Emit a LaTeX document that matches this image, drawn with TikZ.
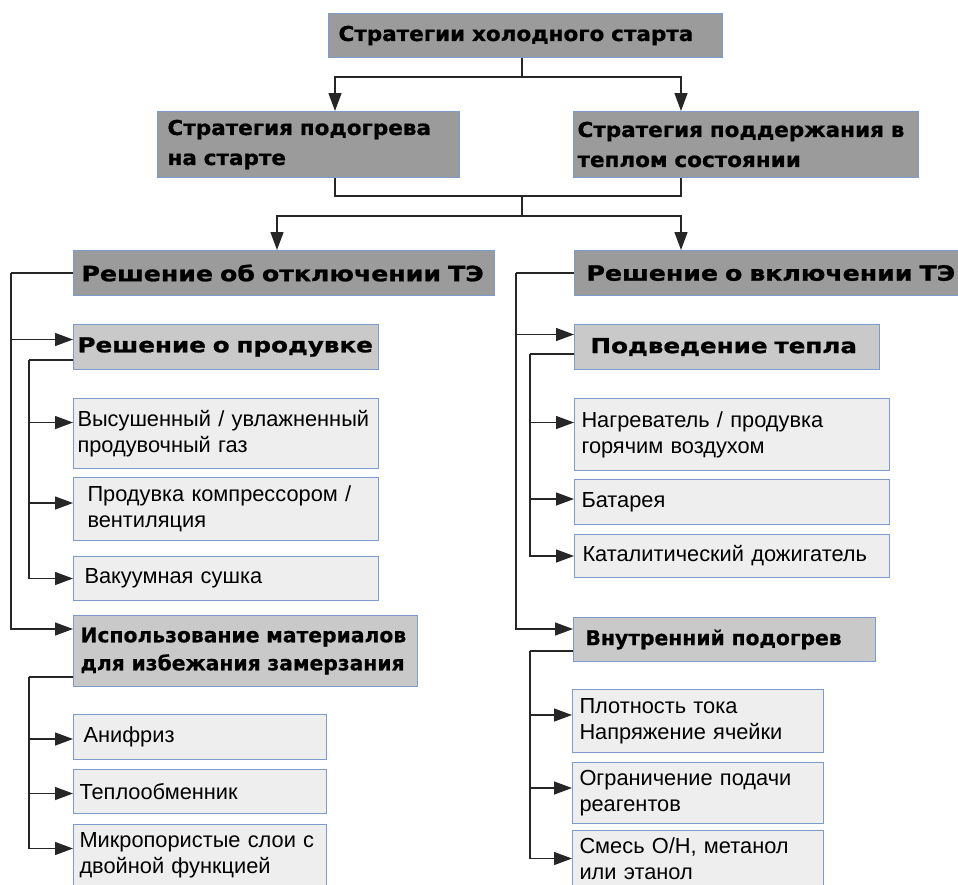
\documentclass[tikz,border=0pt]{standalone}
\usepackage{fontspec}
\setmainfont{Liberation Sans}
\newfontfamily\heavyfont[FakeBold=0.6]{DejaVu Sans}
\newfontfamily\widefont[FakeStretch=1.05, FakeBold=0.8]{DejaVu Sans}
\newfontfamily\blackfont[FakeStretch=1.2, FakeBold=1.2]{DejaVu Sans}
\usetikzlibrary{arrows.meta}
\usetikzlibrary{calc}

\definecolor{grayA}{HTML}{9B9B9B}
\definecolor{grayB}{HTML}{C9C9C9}
\definecolor{grayC}{HTML}{EEEEEE}
\definecolor{boxline}{HTML}{7C9CCF}

\begin{document}
\begin{tikzpicture}[x=1pt, y=-1pt,
    box/.style={draw=boxline, line width=1pt, anchor=north west, align=left, inner ysep=0pt},
    lvlA/.style={box, fill=grayA, font=\widefont\bfseries\fontsize{20.5}{30}\selectfont},
    lvlB/.style={box, fill=grayA, font=\blackfont\bfseries\fontsize{21}{26}\selectfont},
    lvlC/.style={box, fill=grayB, font=\blackfont\bfseries\fontsize{20.5}{27}\selectfont},
    lvlD/.style={box, fill=grayB, font=\heavyfont\bfseries\fontsize{20.3}{28}\selectfont},
    leaf/.style={box, fill=grayC, font=\fontsize{21.8}{26}\selectfont},
    line/.style={draw=black!85, line width=1.3pt},
    arr/.style={line, -{Triangle[length=18pt, width=13pt]}}]
        \useasboundingbox (0,0) rectangle (958,884);
        \clip (0,0) rectangle (958,884);

        % top levels
        \node[lvlA, inner xsep=10pt, text width=374pt, minimum height=44pt] (top) at (328,13) {Стратегии холодного старта};
        \node[lvlA, inner xsep=10pt, text width=282pt, minimum height=66pt] (warm1) at (157,111) {Стратегия подогрева\\на старте};
        \node[lvlA, inner xsep=4pt, text width=337pt, minimum height=66pt] (warm2) at (573,111) {Стратегия поддержания в\\теплом состоянии};

        \node[lvlB, inner xsep=8pt, text width=405pt, minimum height=45pt] (off) at (73,250) {Решение об отключении ТЭ};
        \node[lvlB, inner xsep=12pt, text width=396pt, minimum height=45pt] (on) at (574,250) {Решение о включении ТЭ};

        % left side
        \node[lvlC, inner xsep=4pt, text width=297pt, minimum height=45pt] (purge) at (73,324) {Решение о продувке};
        \node[leaf, inner xsep=4pt, text width=297pt, minimum height=70pt] (dry) at (73,398) {Высушенный / увлажненный\\продувочный газ};
        \node[leaf, inner xsep=14pt, text width=277pt, minimum height=63pt] (comp) at (73,477) {Продувка компрессором /\\вентиляция};
        \node[leaf, inner xsep=11pt, text width=283pt, minimum height=44pt] (vac) at (73,556) {Вакуумная сушка};

        \node[lvlD, inner xsep=7pt, text width=330pt, minimum height=71pt] (mat) at (73,615) {Использование материалов\\для избежания замерзания};
        \node[leaf, inner xsep=10pt, text width=233pt, minimum height=45pt] (anti) at (73,714) {Анифриз};
        \node[leaf, inner xsep=6pt, text width=241pt, minimum height=44pt] (hx) at (73,769) {Теплообменник};
        \node[leaf, inner xsep=6pt, text width=241pt, minimum height=62pt] (micro) at (73,824) {Микропористые слои с\\двойной функцией};

        % right side
        \node[lvlC, inner xsep=16pt, text width=273pt, minimum height=45pt] (heat) at (574,324) {Подведение тепла};
        \node[leaf, inner xsep=7pt, text width=301pt, minimum height=72pt] (heater) at (574,398) {Нагреватель / продувка\\горячим воздухом};
        \node[leaf, inner xsep=7pt, text width=301pt, minimum height=45pt] (batt) at (574,479) {Батарея};
        \node[leaf, inner xsep=8pt, text width=299pt, minimum height=43pt] (cat) at (574,534) {Каталитический дожигатель};

        \node[lvlD, inner xsep=12pt, text width=278pt, minimum height=44pt] (inner) at (573,617) {Внутренний подогрев};
        \node[leaf, inner xsep=7pt, text width=237pt, minimum height=63pt] (cur) at (572,689) {Плотность тока\\Напряжение ячейки};
        \node[leaf, inner xsep=7pt, text width=237pt, minimum height=61pt] (lim) at (572,762) {Ограничение подачи\\реагентов};
        \node[leaf, inner xsep=7pt, text width=237pt, minimum height=56pt] (mix) at (572,830) {Смесь О/Н, метанол\\или этанол};

        % junctions
        \coordinate (j0) at (522,77);
        \coordinate (j1) at (522,196);
        \coordinate (j2) at (522,216);
        \coordinate (t1) at ([xshift=-62pt]off.west);
        \coordinate (t2) at ([xshift=-58pt]on.west);
        \coordinate (s1) at ([xshift=-44pt, yshift=10pt]purge.south west);
        \coordinate (s2) at ([xshift=-44pt, yshift=10pt]mat.south west);
        \coordinate (s3) at ([xshift=-44pt, yshift=16pt]heat.south west);
        \coordinate (s4) at ([xshift=-43pt, yshift=11pt]inner.south west);

        \draw[line] (top.south -| j0) -- (j0);
        \draw[arr] (j0) -| ([xshift=178pt]warm1.north west);
        \draw[arr] (j0) -| ([xshift=108pt]warm2.north west);
        \draw[line] ([xshift=178pt]warm1.south west) |- (j1);
        \draw[line] ([xshift=108pt]warm2.south west) |- (j1);
        \draw[line] (j1) -- (j2);
        \draw[arr] (j2) -| ([xshift=204pt]off.north west);
        \draw[arr] (j2) -| ([xshift=107pt]on.north west);

        \draw[line] (off.west) -- (t1);
        \draw[arr] (t1) |- ([yshift=7.5pt]purge.west);
        \draw[arr] (t1) |- ([yshift=-14pt]mat.north west);
        \draw[line] (s1 -| purge.west) -- (s1);
        \draw[arr] (s1) |- ([yshift=11pt]dry.west);
        \draw[arr] (s1) |- ([yshift=6pt]comp.west);
        \draw[arr] (s1) |- (vac.west);
        \draw[line] (s2 -| mat.west) -- (s2);
        \draw[arr] (s2) |- ([yshift=-2pt]anti.west);
        \draw[arr] (s2) |- ([yshift=-2pt]hx.west);
        \draw[arr] (s2) |- ([yshift=7pt]micro.west);

        \draw[line] (on.west) -- (t2);
        \draw[arr] (t2) |- ([yshift=12.5pt]heat.west);
        \draw[arr] (t2) |- ([yshift=-12pt]inner.north west);
        \draw[line] (s3 -| heat.west) -- (s3);
        \draw[arr] (s3) |- ([yshift=12pt]heater.west);
        \draw[arr] (s3) |- ([yshift=3pt]batt.west);
        \draw[arr] (s3) |- (cat.west);
        \draw[line] (s4 -| inner.west) -- (s4);
        \draw[arr] (s4) |- ([yshift=6pt]cur.west);
        \draw[arr] (s4) |- ([yshift=5pt]lim.west);
        \draw[arr] (s4) |- (mix.west);
      \end{tikzpicture}
\end{document}
